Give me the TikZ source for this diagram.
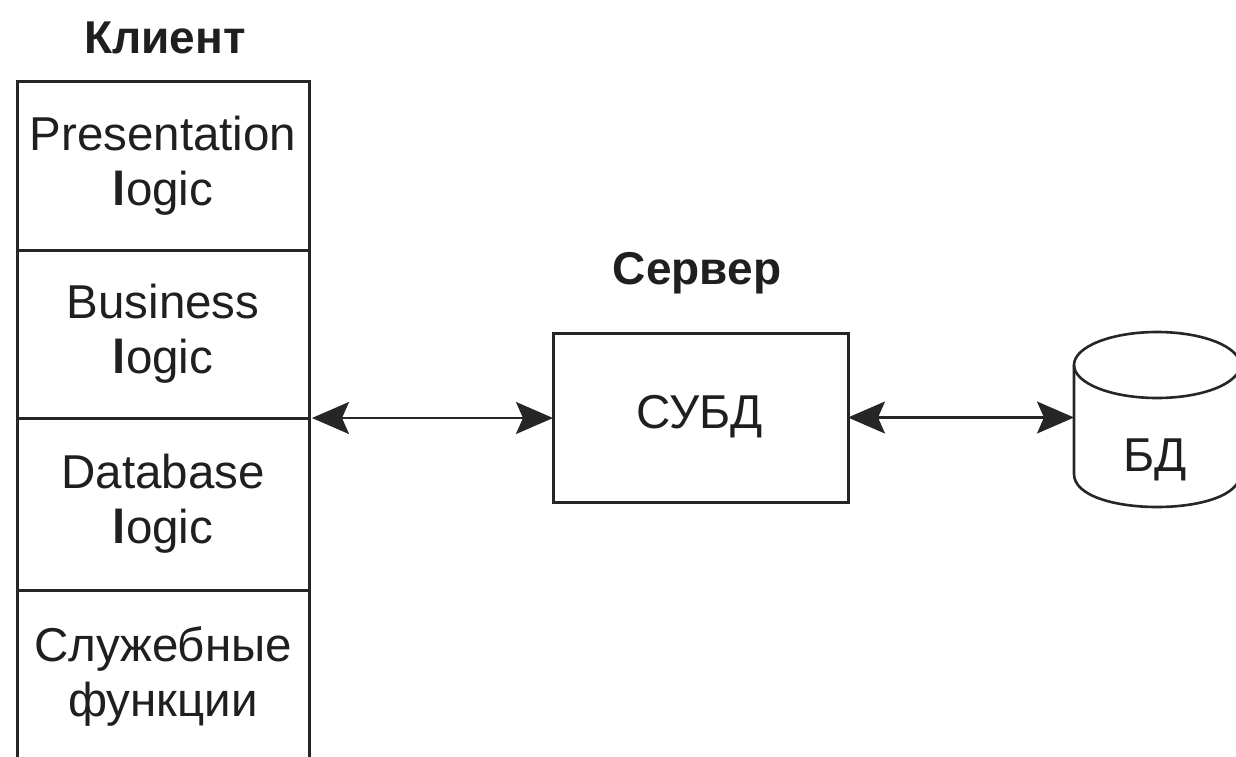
\documentclass[tikz,border=0pt]{standalone}
\usepackage{fontspec}
\setmainfont{Liberation Sans}
\usetikzlibrary{arrows.meta,calc}
\begin{document}
\begin{tikzpicture}[x=1pt,y=-1pt,
  every node/.style={inner sep=0pt, outer sep=0pt, text=black!88},
  txt/.style={font=\fontsize{47.5}{55}\selectfont, align=center},
  title/.style={font=\fontsize{46}{52}\selectfont\bfseries},
  layer/.style={draw=black!85, line width=3pt, minimum width=292pt, txt},
  conn/.style={line width=2.2pt, black!85, {Stealth[length=37pt,width=32pt,inset=7pt]}-{Stealth[length=37pt,width=32pt,inset=7pt]}}
]
\useasboundingbox (0,0) rectangle (1236,756);
\clip (0,0) rectangle (1236,756);
\fill[white] (0,0) rectangle (1236,756);
% client
\node[title] (clt) at (165,38) {Клиент};
\node[layer, minimum height=169pt, anchor=north west] (pres) at (17,81) {Presentation\\\textbf{l}ogic};
\node[layer, minimum height=168pt, anchor=north] (biz) at (pres.south) {Business\\\textbf{l}ogic};
\node[layer, minimum height=172pt, anchor=north] (dbl) at (biz.south) {Database\\\textbf{l}ogic};
\node[layer, minimum height=172pt, anchor=north] (svc) at (dbl.south) {Служебные\\функции};
% server
\node[title] (srvt) at (697,273) {Сервер};
\node[draw=black!85, line width=3pt, minimum width=295pt, minimum height=169pt, txt, anchor=north west] (srv) at (553,333) {};
\node[txt] (subd) at (700,417) {СУБД};
% database cylinder
\node[minimum width=166pt, minimum height=175pt] (db) at (1157,420) {};
\draw[black!85, line width=2.6pt, fill=white]
  ($(db.west)+(0,-55)$) -- ($(db.west)+(0,54)$)
  .. controls ($(db.west)+(0,98)$) and ($(db.east)+(0,98)$) .. ($(db.east)+(0,54)$)
  -- ($(db.east)+(0,-55)$);
\draw[black!85, line width=2.6pt] (1157,365) ellipse[x radius=83pt, y radius=33pt];
\node[txt] (bd) at (1155,460) {БД};
% connectors
\draw[conn] (biz.south east) ++(3,0) coordinate (a1) -- (a1 -| srv.west);
\draw[conn] (srv.east) -- (srv.east -| db.west);
\end{tikzpicture}
\end{document}
